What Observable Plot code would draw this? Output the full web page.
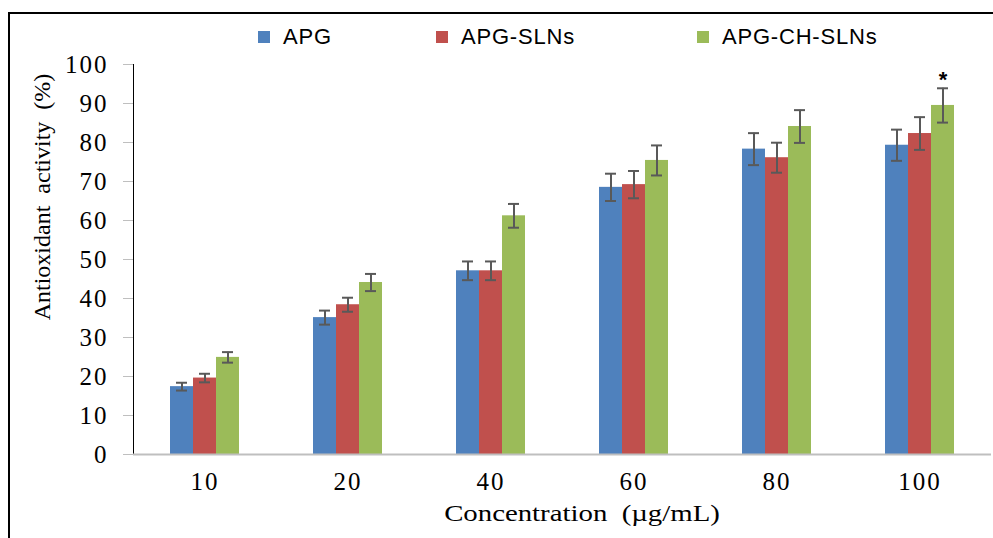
<!DOCTYPE html>
<html>
<head>
<meta charset="utf-8">
<script src="https://cdn.jsdelivr.net/npm/d3@7"></script>
<script src="https://cdn.jsdelivr.net/npm/@observablehq/plot@0.6"></script>
<style>
  html, body { margin: 0; padding: 0; background: #fff; }
  body { width: 993px; height: 538px; position: relative; overflow: hidden; }
  #frame { position: absolute; left: 8px; top: 12px; width: 1000px; height: 540px;
           border-top: 2px solid #000; border-left: 2px solid #000; }
  #legend { position: absolute; top: 23px; left: 0; width: 993px; height: 28px; z-index: 2;
            font-family: "Liberation Sans", Arial, sans-serif; font-size: 22px; letter-spacing: 0.8px; color: #000; }
  .item { position: absolute; top: 0; display: flex; align-items: center; height: 28px; }
  .swatch { width: 12px; height: 12px; margin-right: 13px; }
  #chart { position: absolute; left: 0; top: 35px; }
  #ytitle { position: absolute; left: 42px; top: 197px; transform: translate(-50%, -50%) rotate(-90deg);
            white-space: nowrap; font-family: "Liberation Serif", "Times New Roman", serif; font-size: 24px; }
  #xtitle { position: absolute; left: 582px; top: 513px; transform: translate(-50%, -50%) scaleX(1.2);
            white-space: nowrap; font-family: "Liberation Serif", "Times New Roman", serif; font-size: 24px; }
  #chart g[aria-label="y-axis tick"] { color: #bfbfbf; }
  #chart g[aria-label="y-axis tick label"],
  #chart g[aria-label="fx-axis tick label"] { font-size: 25px; letter-spacing: 2px; }
</style>
</head>
<body>
<div id="frame"></div>
<div id="chart"></div>
<div id="legend"></div>
<div id="ytitle">Antioxidant&nbsp; activity&nbsp; (%)</div>
<div id="xtitle">Concentration&nbsp; (µg/mL)</div>
<script>
// Concentrations tested (µg/mL) and the three formulations
const concentrations = ["10", "20", "40", "60", "80", "100"];
const series = ["APG", "APG-SLNs", "APG-CH-SLNs"];
const colors = ["#4F81BD", "#C0504D", "#9BBB59"];

// Mean antioxidant activity (%) and standard deviation per formulation
const apg      = [17.4, 35.1, 47.1, 68.5, 78.3, 79.3];
const apgSd    = [1.0, 1.8, 2.4, 3.5, 4.1, 4.0];
const apgSln   = [19.6, 38.4, 47.1, 69.2, 76.1, 82.3];
const apgSlnSd = [1.1, 1.8, 2.4, 3.5, 3.85, 4.2];
const apgCh    = [24.9, 44.1, 61.2, 75.4, 84.1, 89.5];
const apgChSd  = [1.35, 2.2, 3.05, 3.85, 4.2, 4.4];

// Significance marker
const significance = [{conc: "100", series: "APG-CH-SLNs", label: "*"}];

const yTicks = [0, 10, 20, 30, 40, 50, 60, 70, 80, 90, 100];

const means = [apg, apgSln, apgCh];
const sds = [apgSd, apgSlnSd, apgChSd];
const data = [];
concentrations.forEach((c, i) => {
  series.forEach((s, j) => {
    data.push({conc: c, series: s, value: means[j][i], sd: sds[j][i],
               lo: means[j][i] - sds[j][i], hi: means[j][i] + sds[j][i]});
  });
});
const sig = significance.map(d => {
  const row = data.find(r => r.conc === d.conc && r.series === d.series);
  return {...d, y: row.hi};
});

// Legend
const legend = document.getElementById("legend");
const legendX = [258, 436, 697];
series.forEach((s, j) => {
  const item = document.createElement("div");
  item.className = "item";
  item.style.left = legendX[j] + "px";
  item.innerHTML = `<div class="swatch" style="background:${colors[j]}"></div><span>${s}</span>`;
  legend.appendChild(item);
});

const chart = Plot.plot({
  width: 993,
  height: 462,
  marginLeft: 130,
  marginRight: 0,
  marginTop: 29,
  marginBottom: 43,
  style: {fontFamily: "'Liberation Serif', 'Times New Roman', serif", fontSize: "23px", color: "#000", background: "transparent", overflow: "visible"},
  fx: {domain: concentrations, padding: 0, axis: "bottom", label: null, tickSize: 0, tickPadding: 18},
  x: {domain: series, axis: null, paddingInner: 0, paddingOuter: 1.5},
  y: {domain: [0, 100], ticks: yTicks, tickSize: 10, tickPadding: 15, line: true, label: null},
  color: {domain: series, range: colors},
  marks: [
    Plot.barY(data, {fx: "conc", x: "series", y: "value", fill: "series"}),
    Plot.ruleY([0], {stroke: "#bfbfbf", strokeWidth: 2}),
    Plot.ruleX(data, {fx: "conc", x: "series", y1: "lo", y2: "hi", stroke: "#595959", strokeWidth: 2}),
    Plot.tickY(data, {fx: "conc", x: "series", y: "lo", stroke: "#595959", strokeWidth: 2, insetLeft: 6, insetRight: 6}),
    Plot.tickY(data, {fx: "conc", x: "series", y: "hi", stroke: "#595959", strokeWidth: 2, insetLeft: 6, insetRight: 6}),
    Plot.text(sig, {fx: "conc", x: "series", y: "y", text: "label", lineAnchor: "bottom", dy: -1,
                    fontSize: 22, fontWeight: "bold", fontFamily: "'Liberation Sans', Arial, sans-serif"})
  ]
});
document.getElementById("chart").appendChild(chart);
</script>
</body>
</html>
